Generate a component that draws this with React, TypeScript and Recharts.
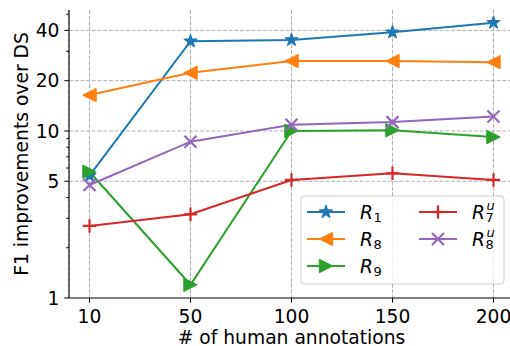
import { LineChart, Line, XAxis, YAxis, CartesianGrid, ReferenceLine, Label } from "recharts";

// number of human annotations (categorical, evenly spaced)
const X_LABELS = ["10", "50", "100", "150", "200"];

// F1 improvements over DS
const R1 = [5.4, 34.5, 35.1, 39, 44.5];
const R8 = [16.4, 22.3, 26.2, 26.2, 25.8];
const R9 = [5.7, 1.2, 10, 10.1, 9.2];
const R7U = [2.7, 3.17, 5.09, 5.58, 5.09];
const R8U = [4.75, 8.63, 10.9, 11.3, 12.2];

const Y_MAJOR = [1, 5, 10, 20, 40];
const Y_MINOR = [2, 3, 4, 6, 7, 8, 9, 30, 50];
const Y_DOMAIN: [number, number] = [1, 53];

const FONT = "'DejaVu Sans', sans-serif";
const FS = 18.7;

type Shape = "star" | "left" | "right" | "plus" | "x";

const SERIES: { key: string; base: string; sup?: string; sub: string; color: string; shape: Shape; values: number[] }[] = [
  { key: "r1", base: "R", sub: "1", color: "#1f77b4", shape: "star", values: R1 },
  { key: "r8", base: "R", sub: "8", color: "#ff7f0e", shape: "left", values: R8 },
  { key: "r9", base: "R", sub: "9", color: "#2ca02c", shape: "right", values: R9 },
  { key: "r7u", base: "R", sup: "u", sub: "7", color: "#d62728", shape: "plus", values: R7U },
  { key: "r8u", base: "R", sup: "u", sub: "8", color: "#9467bd", shape: "x", values: R8U },
];

const data = X_LABELS.map((x, i) => {
  const row: Record<string, string | number> = { x };
  SERIES.forEach((s) => (row[s.key] = s.values[i]));
  return row;
});

function Marker({ shape, cx, cy, color }: { shape: Shape; cx: number; cy: number; color: string }) {
  const r = 6.7;
  if (shape === "star") {
    const pts: string[] = [];
    for (let i = 0; i < 10; i++) {
      const rad = i % 2 === 0 ? r : r * 0.382;
      const a = -Math.PI / 2 + (i * Math.PI) / 5;
      pts.push(`${cx + rad * Math.cos(a)},${cy + rad * Math.sin(a)}`);
    }
    return <polygon points={pts.join(" ")} fill={color} stroke={color} strokeWidth={1.2} strokeLinejoin="round" />;
  }
  if (shape === "left") {
    return (
      <polygon
        points={`${cx - r},${cy} ${cx + r},${cy - r} ${cx + r},${cy + r}`}
        fill={color}
        stroke={color}
        strokeWidth={1}
      />
    );
  }
  if (shape === "right") {
    return (
      <polygon
        points={`${cx + r},${cy} ${cx - r},${cy - r} ${cx - r},${cy + r}`}
        fill={color}
        stroke={color}
        strokeWidth={1}
      />
    );
  }
  if (shape === "plus") {
    return (
      <g stroke={color} strokeWidth={2.2}>
        <line x1={cx - r} x2={cx + r} y1={cy} y2={cy} />
        <line x1={cx} x2={cx} y1={cy - r} y2={cy + r} />
      </g>
    );
  }
  const q = 6;
  return (
    <g stroke={color} strokeWidth={2.2}>
      <line x1={cx - q} x2={cx + q} y1={cy - q} y2={cy + q} />
      <line x1={cx - q} x2={cx + q} y1={cy + q} y2={cy - q} />
    </g>
  );
}

function YTick(props: any) {
  const { x, y, payload } = props;
  const major = Y_MAJOR.includes(payload.value);
  return (
    <g>
      <line x1={x - (major ? 4.7 : 2.7)} x2={x} y1={y} y2={y} stroke="#000" strokeWidth={1} />
      {major && (
        <text x={x - 9.5} y={y + 6.8} textAnchor="end" fontFamily={FONT} fontSize={FS} fill="#000">
          {payload.value}
        </text>
      )}
    </g>
  );
}

function XTick(props: any) {
  const { x, y, payload } = props;
  return (
    <g>
      <line x1={x} x2={x} y1={y} y2={y + 4.7} stroke="#000" strokeWidth={1} />
      <text x={x} y={y + 24.5} textAnchor="middle" fontFamily={FONT} fontSize={FS} fill="#000">
        {payload.value}
      </text>
    </g>
  );
}

function SeriesLabel({ s, x, y }: { s: (typeof SERIES)[number]; x: number; y: number }) {
  return (
    <text y={y} fontFamily={FONT} fill="#000">
      <tspan x={x} fontSize={FS} fontStyle="italic">
        {s.base}
      </tspan>
      {s.sup && (
        <tspan x={x + 14.5} y={y - 9} fontSize={13} fontStyle="italic">
          {s.sup}
        </tspan>
      )}
      <tspan x={x + 13.5} y={y + 3} fontSize={13}>
        {s.sub}
      </tspan>
    </text>
  );
}

function LegendBox() {
  const rows = [17, 44, 71];
  return (
    <svg width={206} height={91} style={{ display: "block" }}>
      <rect x={1} y={1} width={203} height={88} rx={3} fill="#fff" fillOpacity={0.8} stroke="#cccccc" strokeWidth={1} />
      {SERIES.map((s, i) => {
        const col = i < 3 ? 0 : 1;
        const y = rows[col === 0 ? i : i - 3];
        const x0 = col === 0 ? 7 : 119;
        return (
          <g key={s.key}>
            <line x1={x0} x2={x0 + 38} y1={y} y2={y} stroke={s.color} strokeWidth={2} />
            <Marker shape={s.shape} cx={x0 + 19} cy={y} color={s.color} />
            <SeriesLabel s={s} x={x0 + 53} y={y + 6.5} />
          </g>
        );
      })}
    </svg>
  );
}

export default function App() {
  return (
    <div style={{ position: "absolute", left: 0, top: 0, width: 510, height: 346, overflow: "hidden", background: "#fff" }}>
      <LineChart width={514} height={346} data={data} margin={{ top: 10, right: 0, bottom: 0, left: 0 }}>
        <CartesianGrid horizontal={false} stroke="#b0b0b0" strokeWidth={1} strokeDasharray="4 1.7" />
        {Y_MAJOR.slice(1).map((v) => (
          <ReferenceLine key={v} y={v} stroke="#b0b0b0" strokeWidth={1} strokeDasharray="4 1.7" />
        ))}
        <XAxis
          dataKey="x"
          type="category"
          height={48}
          padding={{ left: 20.5, right: 20.5 }}
          axisLine={{ stroke: "#000", strokeWidth: 1.1 }}
          tickSize={0}
          tickMargin={0}
          tickLine={false}
          tick={<XTick />}
          interval={0}
        >
          <Label value="# of human annotations" position="insideBottom" offset={2} fontFamily={FONT} fontSize={FS} fill="#000" />
        </XAxis>
        <XAxis xAxisId="top" dataKey="x" orientation="top" height={0} tick={false} tickLine={false} axisLine={{ stroke: "#000", strokeWidth: 1.1 }} />
        <YAxis
          scale="log"
          domain={Y_DOMAIN}
          allowDataOverflow
          ticks={[...Y_MAJOR, ...Y_MINOR].sort((a, b) => a - b)}
          interval={0}
          width={69}
          tickSize={0}
          tickMargin={0}
          tickLine={false}
          tick={<YTick />}
          axisLine={{ stroke: "#000", strokeWidth: 1.1 }}
        >
          <Label
            content={(p: any) => {
              const vb = p.viewBox;
              const cy = vb.y + vb.height / 2;
              return (
                <text
                  x={28}
                  y={cy}
                  transform={`rotate(-90, 28, ${cy})`}
                  textAnchor="middle"
                  fontFamily={FONT}
                  fontSize={FS}
                  fill="#000"
                >
                  F1 improvements over DS
                </text>
              );
            }}
          />
        </YAxis>
        {SERIES.map((s) => (
          <Line
            key={s.key}
            dataKey={s.key}
            stroke={s.color}
            strokeWidth={2}
            isAnimationActive={false}
            dot={(p: any) => <Marker key={`${s.key}-${p.index}`} shape={s.shape} cx={p.cx} cy={p.cy} color={s.color} />}
            activeDot={false}
          />
        ))}
      </LineChart>
      <div style={{ position: "absolute", left: 300, top: 195, width: 206, height: 91 }}>
        <LegendBox />
      </div>
    </div>
  );
}
